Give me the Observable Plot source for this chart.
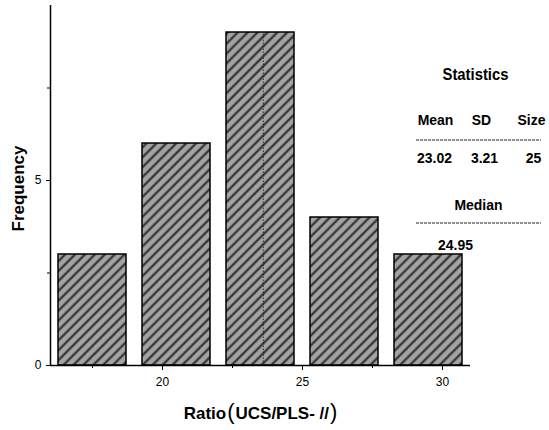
<!DOCTYPE html>
<html>
<head>
<meta charset="utf-8">
<script src="https://cdn.jsdelivr.net/npm/d3@7"></script>
<script src="https://cdn.jsdelivr.net/npm/@observablehq/plot@0.6"></script>
<style>
  html, body { margin: 0; padding: 0; background: #fff; }
</style>
</head>
<body>
<div id="chart"></div>
<script>
// ---- data ----
const binStarts = [16, 19, 22, 25, 28];
const binEnds = [19, 22, 25, 28, 31];
const frequency = [3, 6, 9, 4, 3];
const xTicks = [20, 25, 30];
const xMinorTicks = [17.5, 22.5, 27.5];
const yTicks = [0, 5];
const yMinorTicks = [2.5, 7.5];
const markerLineX = [23.6];   // thin dotted line inside the tallest bar
const xLabelParts = ["Ratio", "(", "UCS/PLS- //", ")"];
const yLabel = "Frequency";
const tableTitle = "Statistics";
const statLabels = ["Mean", "SD", "Size"];
const statValues = ["23.02", "3.21", "25"];
const medianLabel = "Median";
const medianValue = "24.95";

const bins = binStarts.map((s, i) => ({x1: s, x2: binEnds[i], y: frequency[i]}));
const maxFreq = d3.max(frequency);

const font = "'Liberation Sans', Arial, sans-serif";
const statCols = [-35, 11, 61];   // dx of columns relative to frame right
const valCols = [-36, 14, 63];
const cell = (txt, dx, dy, size = 15.5) => Plot.text([txt], {
  frameAnchor: "top-right", textAnchor: "middle", lineAnchor: "middle",
  dx, dy, text: d => d, fontSize: size, fontWeight: "bold", fontFamily: font, className: "cell"
});

const svg = Plot.plot({
  width: 549,
  height: 430,
  marginLeft: 50,
  marginRight: 79,
  marginTop: 5,
  marginBottom: 65,
  style: {fontFamily: font, fontSize: "12px", background: "#fff", color: "#000"},
  x: {domain: [16, 31]},
  y: {domain: [0, 9.73]},
  marks: [
    Plot.rectY(bins, {x1: "x1", x2: "x2", y: "y", insetLeft: 8, insetRight: 8,
      fill: "url(#hatch)", stroke: "#000", strokeWidth: 1.5}),
    Plot.ruleX(markerLineX, {y1: 0, y2: maxFreq, stroke: "#222", strokeWidth: 0.9, strokeDasharray: "1.5,1.5"}),
    Plot.ruleY([0], {stroke: "#000", strokeWidth: 1.5}),
    Plot.ruleX([16], {stroke: "#000", strokeWidth: 1.5}),
    Plot.axisX({ticks: xTicks, tickSize: 5, tickPadding: 7, label: null, fontSize: 12}),
    Plot.axisX({ticks: xMinorTicks, tickSize: 3, text: null, label: null}),
    Plot.axisY({ticks: yTicks, tickSize: 4, tickPadding: 5, label: null, fontSize: 12}),
    Plot.axisY({ticks: yMinorTicks, tickSize: 3, text: null, label: null}),
    Plot.text([yLabel], {frameAnchor: "left", textAnchor: "middle", dx: -32, dy: 3, rotate: -90, text: d => d,
      fontSize: 17, fontWeight: "bold"}),
    Plot.text([xLabelParts.join("")], {frameAnchor: "bottom", lineAnchor: "middle", dy: 48, text: d => d,
      fontSize: 17, fontWeight: "bold", className: "xlabel"}),
    // statistics table
    cell(tableTitle, 5, 69, 16.5),
    ...statLabels.map((s, i) => cell(s, statCols[i], 115)),
    ...statValues.map((s, i) => cell(s, valCols[i], 153)),
    cell(medianLabel, 8, 200),
    cell(medianValue, -15, 240)
  ]
});

// hatch pattern definition
const defs = d3.select(svg).insert("defs", ":first-child");
const pat = defs.append("pattern")
  .attr("id", "hatch")
  .attr("patternUnits", "userSpaceOnUse")
  .attr("width", 7).attr("height", 7)
  .attr("patternTransform", "rotate(45)");
pat.append("rect").attr("width", 7).attr("height", 7).attr("fill", "#a4a4a4");
pat.append("line").attr("x1", 2).attr("y1", 0).attr("x2", 2).attr("y2", 7)
  .attr("stroke", "#383838").attr("stroke-width", 2.4);

// x label with tall thin parentheses
const xl = d3.select(svg).select(".xlabel text");
xl.text(null);
xLabelParts.forEach(p => {
  const t = xl.append("tspan").text(p);
  if (p === "(" || p === ")") t.attr("font-weight", "normal").attr("font-size", 22).attr("dx", 1);
  else if (p !== xLabelParts[0]) t.attr("dx", 1);
});

// dashed separators of the statistics table
const g = d3.select(svg).append("g").attr("stroke", "#222").attr("stroke-width", 1).attr("stroke-dasharray", "3,1");
[140, 223].forEach(y => g.append("line").attr("x1", 416).attr("x2", 541).attr("y1", y).attr("y2", y));

document.getElementById("chart").appendChild(svg);

// slightly condensed table text, as in the original
d3.select(svg).selectAll(".cell text").each(function() {
  const w = this.getComputedTextLength();
  d3.select(this).attr("lengthAdjust", "spacingAndGlyphs").attr("textLength", w * 0.9);
});
</script>
</body>
</html>
